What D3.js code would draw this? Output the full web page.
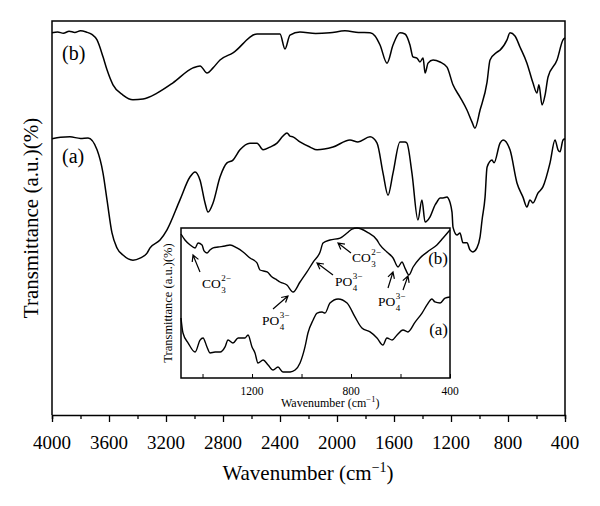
<!DOCTYPE html>
<html lang="en">
<head>
  <meta charset="utf-8">
  <script src="https://d3js.org/d3.v7.min.js"></script>
  <style>
    body { margin: 0; background: #fff; }
    text { font-family: "Liberation Serif", "DejaVu Serif", serif; fill: #000; }
  </style>
</head>
<body>
<svg width="600" height="506"></svg>
<script>
// main spectrum (b)
var bWn = [4000, 3960, 3920, 3880, 3840, 3800, 3760, 3720, 3684, 3642, 3614, 3572, 3502, 3432, 3361, 3263, 3151,
  3011, 2961, 2912, 2870, 2821, 2730, 2561, 2400, 2365, 2330, 2260, 2150, 2049, 1944, 1850, 1768, 1733, 1698, 1649,
  1607, 1558, 1523, 1488, 1467, 1439, 1418, 1396, 1382, 1361, 1326, 1277, 1228, 1186, 1137, 1088, 1053, 1032, 996,
  947, 926, 877, 856, 807, 786, 751, 716, 667, 625, 597, 583, 561, 540, 519, 456, 414, 400];
var bT = [97.0, 97.2, 96.9, 97.4, 97.1, 97.5, 97.2, 96.6, 95.2, 90.9, 87.6, 83.8, 81.2, 80.0, 80.2, 81.7, 84.3,
  88.1, 88.6, 86.8, 88.1, 90.1, 91.9, 96.7, 96.7, 92.9, 96.4, 97.2, 96.8, 97.0, 97.5, 97.1, 97.0, 96.2, 93.9, 89.3,
  93.9, 97.0, 96.7, 93.9, 90.9, 90.6, 89.6, 90.6, 86.8, 89.3, 90.1, 89.6, 88.3, 83.8, 80.7, 77.4, 74.4, 72.8, 77.4,
  84.5, 90.1, 92.1, 92.6, 95.2, 97.0, 96.2, 93.4, 89.3, 84.3, 81.7, 83.8, 78.7, 81.2, 85.8, 90.1, 95.2, 95.7];

// main spectrum (a)
var aWn = [4000, 3940, 3874, 3800, 3747, 3684, 3642, 3614, 3579, 3544, 3502, 3432, 3382, 3333, 3312, 3242, 3193,
  3102, 3032, 2996, 2961, 2926, 2905, 2870, 2821, 2772, 2730, 2681, 2611, 2561, 2519, 2470, 2421, 2379, 2351, 2330,
  2309, 2260, 2189, 2140, 2028, 1909, 1853, 1768, 1719, 1677, 1642, 1607, 1558, 1523, 1509, 1474, 1432, 1404, 1382,
  1347, 1312, 1298, 1277, 1256, 1228, 1221, 1193, 1186, 1158, 1137, 1116, 1088, 1067, 1046, 1018, 996, 982, 961,
  947, 912, 898, 856, 835, 786, 737, 695, 667, 646, 625, 590, 555, 505, 470, 449, 435, 414, 400];
var aT = [70.1, 70.5, 70.6, 70.2, 70.3, 67.3, 61.4, 54.6, 46.2, 42.4, 40.6, 39.3, 39.8, 41.1, 42.4, 44.4, 47.0,
  54.6, 60.4, 61.7, 59.6, 53.8, 51.5, 53.8, 60.4, 64.0, 64.7, 67.3, 69.0, 69.0, 67.3, 68.0, 69.0, 70.8, 71.6, 70.8,
  70.6, 69.3, 68.0, 67.3, 68.0, 69.8, 69.3, 70.6, 69.0, 61.4, 55.8, 61.4, 69.3, 69.3, 69.0, 61.4, 49.5, 54.6, 49.0,
  50.3, 53.3, 54.1, 55.1, 55.1, 55.3, 55.1, 51.5, 47.7, 45.7, 46.2, 43.7, 43.7, 41.9, 41.4, 42.4, 45.2, 49.5, 55.3,
  62.9, 64.7, 64.0, 69.0, 69.8, 67.3, 58.9, 55.3, 52.8, 54.6, 53.8, 56.3, 57.9, 64.0, 69.8, 67.3, 66.8, 69.8, 70.1];

// inset spectrum (b)
var ibWn = [1487, 1471, 1450, 1430, 1418, 1402, 1394, 1382, 1370, 1357, 1337, 1309, 1289, 1261, 1236, 1208, 1180,
  1168, 1139, 1119, 1099, 1087, 1059, 1034, 1006, 978, 953, 925, 913, 885, 844, 816, 796, 776, 735, 695, 683, 655,
  630, 610, 594, 582, 566, 549, 521, 481, 453, 428, 400];
var ibT = [96.0, 92.0, 88.7, 86.7, 90.0, 88.7, 84.7, 83.3, 85.3, 86.7, 87.3, 88.0, 88.7, 86.7, 84.0, 80.0, 76.7,
  72.0, 70.7, 67.3, 65.3, 64.0, 62.0, 57.3, 64.0, 70.7, 77.3, 84.0, 90.0, 92.0, 93.3, 96.7, 99.3, 100, 97.3, 92.0,
  88.7, 84.0, 80.0, 74.0, 77.3, 73.3, 68.7, 74.0, 80.0, 85.3, 88.7, 93.3, 98.7];

// inset spectrum (a)
var iaWn = [1487, 1479, 1458, 1430, 1410, 1398, 1382, 1370, 1349, 1329, 1309, 1297, 1277, 1256, 1228, 1216, 1200,
  1188, 1176, 1155, 1135, 1115, 1095, 1075, 1046, 1026, 1006, 986, 974, 953, 937, 917, 905, 885, 852, 816, 784, 756,
  723, 695, 671, 655, 634, 614, 590, 570, 541, 513, 493, 473, 461, 440, 420, 400];
var iaT = [40.0, 30.0, 23.3, 17.3, 25.3, 26.7, 20.7, 16.7, 17.3, 17.3, 20.7, 25.3, 23.3, 26.7, 26.7, 28.7, 20.7,
  16.7, 10.0, 12.0, 8.7, 5.3, 7.3, 4.0, 4.0, 5.3, 10.0, 20.7, 30.0, 38.7, 43.3, 44.0, 43.3, 50.0, 52.7, 50.0, 40.7,
  33.3, 30.7, 26.7, 22.0, 26.7, 25.3, 28.7, 32.0, 30.7, 37.3, 43.3, 48.7, 52.7, 50.7, 50.0, 53.3, 54.0];

var mainTicks = [4000, 3600, 3200, 2800, 2400, 2000, 1600, 1200, 800, 400];
var insetTicks = [1200, 800, 400];

var svg = d3.select("svg");
var mL = 52, mR = 565, mT = 21, mB = 415;

var x = d3.scaleLinear().domain([4000, 400]).range([mL, mR]);
var y = d3.scaleLinear().domain([0, 100]).range([mB, mT]);

function pts(wn, t) { return wn.map(function(d, i) { return [d, t[i]]; }); }

var line = d3.line()
  .x(function(d) { return x(d[0]); })
  .y(function(d) { return y(d[1]); })
  .curve(d3.curveMonotoneX);

svg.append("path").datum(pts(bWn, bT))
  .attr("d", line).attr("fill", "none").attr("stroke", "#000").attr("stroke-width", 1.5);
svg.append("path").datum(pts(aWn, aT))
  .attr("d", line).attr("fill", "none").attr("stroke", "#000").attr("stroke-width", 1.5);

// frame
svg.append("path")
  .attr("d", "M" + mL + "," + mB + "V" + mT + "H" + mR + "V" + mB)
  .attr("fill", "none").attr("stroke", "#000").attr("stroke-width", 1.5);

var xAxis = svg.append("g")
  .attr("transform", "translate(0," + mB + ")")
  .call(d3.axisBottom(x).tickValues(d3.range(4000, 399, -200)).tickSize(4).tickFormat(""));
xAxis.select(".domain").attr("stroke-width", 1.5);
xAxis.selectAll(".tick line").attr("stroke-width", 1.3)
  .attr("y2", function(d) { return d % 400 === 0 ? 7 : 4; });

svg.selectAll(".mtick").data(mainTicks).enter().append("text")
  .attr("x", function(d) { return x(d); })
  .attr("y", 449)
  .attr("text-anchor", "middle")
  .attr("font-size", "19px")
  .text(function(d) { return d; });

var xt = svg.append("text").attr("x", 308).attr("y", 480)
  .attr("text-anchor", "middle").attr("font-size", "21px");
xt.append("tspan").text("Wavenumber (cm");
xt.append("tspan").attr("dy", -8).attr("font-size", "14px").text("\u22121");
xt.append("tspan").attr("dy", 8).text(")");

svg.append("text")
  .attr("transform", "translate(38,218) rotate(-90)")
  .attr("text-anchor", "middle")
  .attr("font-size", "21px")
  .text("Transmittance (a.u.)(%)");

svg.append("text").attr("x", 62).attr("y", 60).attr("font-size", "20px").text("(b)");
svg.append("text").attr("x", 62).attr("y", 163).attr("font-size", "20px").text("(a)");

// ---- inset ----
var il = 181, ir = 450, it = 228, ib = 378;
var ix = d3.scaleLinear().domain([1487, 400]).range([il, ir]);
var iy = d3.scaleLinear().domain([0, 100]).range([ib, it]);

svg.append("rect")
  .attr("x", il).attr("y", it).attr("width", ir - il).attr("height", ib - it)
  .attr("fill", "#fff");

var iline = d3.line()
  .x(function(d) { return ix(d[0]); })
  .y(function(d) { return iy(d[1]); })
  .curve(d3.curveMonotoneX);

svg.append("path").datum(pts(ibWn, ibT))
  .attr("d", iline).attr("fill", "none").attr("stroke", "#000").attr("stroke-width", 1.4);
svg.append("path").datum(pts(iaWn, iaT))
  .attr("d", iline).attr("fill", "none").attr("stroke", "#000").attr("stroke-width", 1.4);

svg.append("rect")
  .attr("x", il).attr("y", it).attr("width", ir - il).attr("height", ib - it)
  .attr("fill", "none").attr("stroke", "#000").attr("stroke-width", 1.5);

var ixAxis = svg.append("g")
  .attr("transform", "translate(0," + ib + ")")
  .call(d3.axisTop(ix).tickValues([1400, 1200, 1000, 800, 600, 400]).tickSize(4).tickFormat(""));
ixAxis.select(".domain").remove();

svg.selectAll(".itick").data(insetTicks).enter().append("text")
  .attr("x", function(d) { return ix(d); })
  .attr("y", 395)
  .attr("text-anchor", "middle")
  .attr("font-size", "11.5px")
  .text(function(d) { return d; });

var ixt = svg.append("text").attr("x", 281).attr("y", 407).attr("font-size", "12px");
ixt.append("tspan").text("Wavenumber (cm");
ixt.append("tspan").attr("dy", -5).attr("font-size", "8.5px").text("\u22121");
ixt.append("tspan").attr("dy", 5).text(")");

svg.append("text")
  .attr("transform", "translate(172,303) rotate(-90)")
  .attr("text-anchor", "middle")
  .attr("font-size", "12.5px")
  .text("Transmittance (a.u.)(%)");

svg.append("text").attr("x", 448).attr("y", 264).attr("text-anchor", "end").attr("font-size", "17px").text("(b)");
svg.append("text").attr("x", 448).attr("y", 335).attr("text-anchor", "end").attr("font-size", "17px").text("(a)");

// ion annotations: base text with stacked sup/sub charges
function ion(px, py, base, sub, sup) {
  var t = svg.append("text").attr("x", px).attr("y", py).attr("font-size", "13.5px").text(base);
  var sx = px + t.node().getComputedTextLength() + 0.5;
  svg.append("text").attr("x", sx).attr("y", py - 7).attr("font-size", "9px").text(sup);
  svg.append("text").attr("x", sx).attr("y", py + 4.5).attr("font-size", "9px").text(sub);
}
function arrow(x1, y1, x2, y2) {
  var a = Math.atan2(y2 - y1, x2 - x1), h = 7, s = 0.5;
  var d = "M" + x1 + "," + y1 + "L" + x2 + "," + y2 +
    "M" + (x2 - h * Math.cos(a - s)) + "," + (y2 - h * Math.sin(a - s)) +
    "L" + x2 + "," + y2 +
    "L" + (x2 - h * Math.cos(a + s)) + "," + (y2 - h * Math.sin(a + s));
  svg.append("path").attr("d", d).attr("fill", "none").attr("stroke", "#000").attr("stroke-width", 1.2);
}

ion(202, 288, "CO", "3", "2\u2212");
arrow(200, 272, 193, 255);
ion(262, 325, "PO", "4", "3\u2212");
arrow(273, 309, 288, 296);
ion(335, 286, "PO", "4", "3\u2212");
arrow(333, 275, 317, 263);
ion(352, 262, "CO", "3", "2\u2212");
arrow(351, 253, 338, 243);
ion(378, 306, "PO", "4", "3\u2212");
arrow(388, 288, 393, 272);
arrow(403, 290, 408, 276);
</script>
</body>
</html>
